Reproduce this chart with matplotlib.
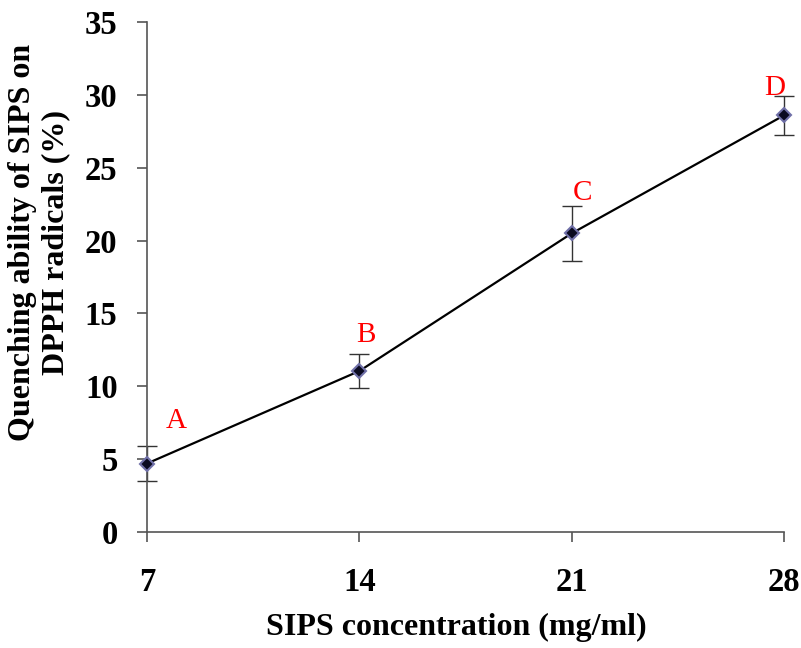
import numpy as np
import matplotlib.pyplot as plt

conc = [7, 14, 21, 28]
quench = [4.7, 11.05, 20.5, 28.6]
err = [1.2, 1.15, 1.9, 1.35]
letters = ['A', 'B', 'C', 'D']
letter_pos = [(7.95, 7.6), (14.2, 13.5), (21.35, 23.3), (27.7, 30.5)]

plt.rcParams['font.family'] = ['Liberation Serif', 'DejaVu Serif']

fig = plt.figure(figsize=(8.01, 6.48), dpi=100)
ax = fig.add_axes([0.1835, 0.179, 0.7955, 0.787])

ax.errorbar(conc, quench, yerr=err, fmt='none', ecolor='#333333',
            elinewidth=1, capsize=7, capthick=1, zorder=2, clip_on=False)
ax.plot(conc, quench, color='black', lw=1.6, zorder=3, clip_on=False)
ax.plot(conc, quench, 'D', ms=7.5, mfc='#0a0a20', mec='#7070a8', mew=1.5,
        zorder=4, clip_on=False)

for lab, (lx, ly) in zip(letters, letter_pos):
    ax.text(lx, ly, lab, color='red', fontsize=21, ha='center', va='center')

ax.set_xlim(7, 28)
ax.set_ylim(0, 35)
ax.set_xticks(conc)
ax.set_yticks(np.arange(0, 36, 5))
ax.spines['top'].set_visible(False)
ax.spines['right'].set_visible(False)
for s in ['left', 'bottom']:
    ax.spines[s].set_color('#555555')
    ax.spines[s].set_linewidth(1.2)
ax.tick_params(direction='out', length=7.2, width=1.2, color='#555555',
               labelsize=23.5)
ax.tick_params(axis='x', pad=18)
ax.tick_params(axis='y', pad=14)
for t in ax.get_xticklabels() + ax.get_yticklabels():
    t.set_fontweight('bold')

ax.set_xlabel('SIPS concentration (mg/ml)', fontsize=23, fontweight='bold')
ax.set_ylabel('Quenching ability of SIPS on\nDPPH radicals (%)', fontsize=23,
              fontweight='bold')
ax.xaxis.set_label_coords(0.485, -0.159)
ax.yaxis.set_label_coords(-0.12, 0.567)

fig.savefig('out.png', dpi=100)
